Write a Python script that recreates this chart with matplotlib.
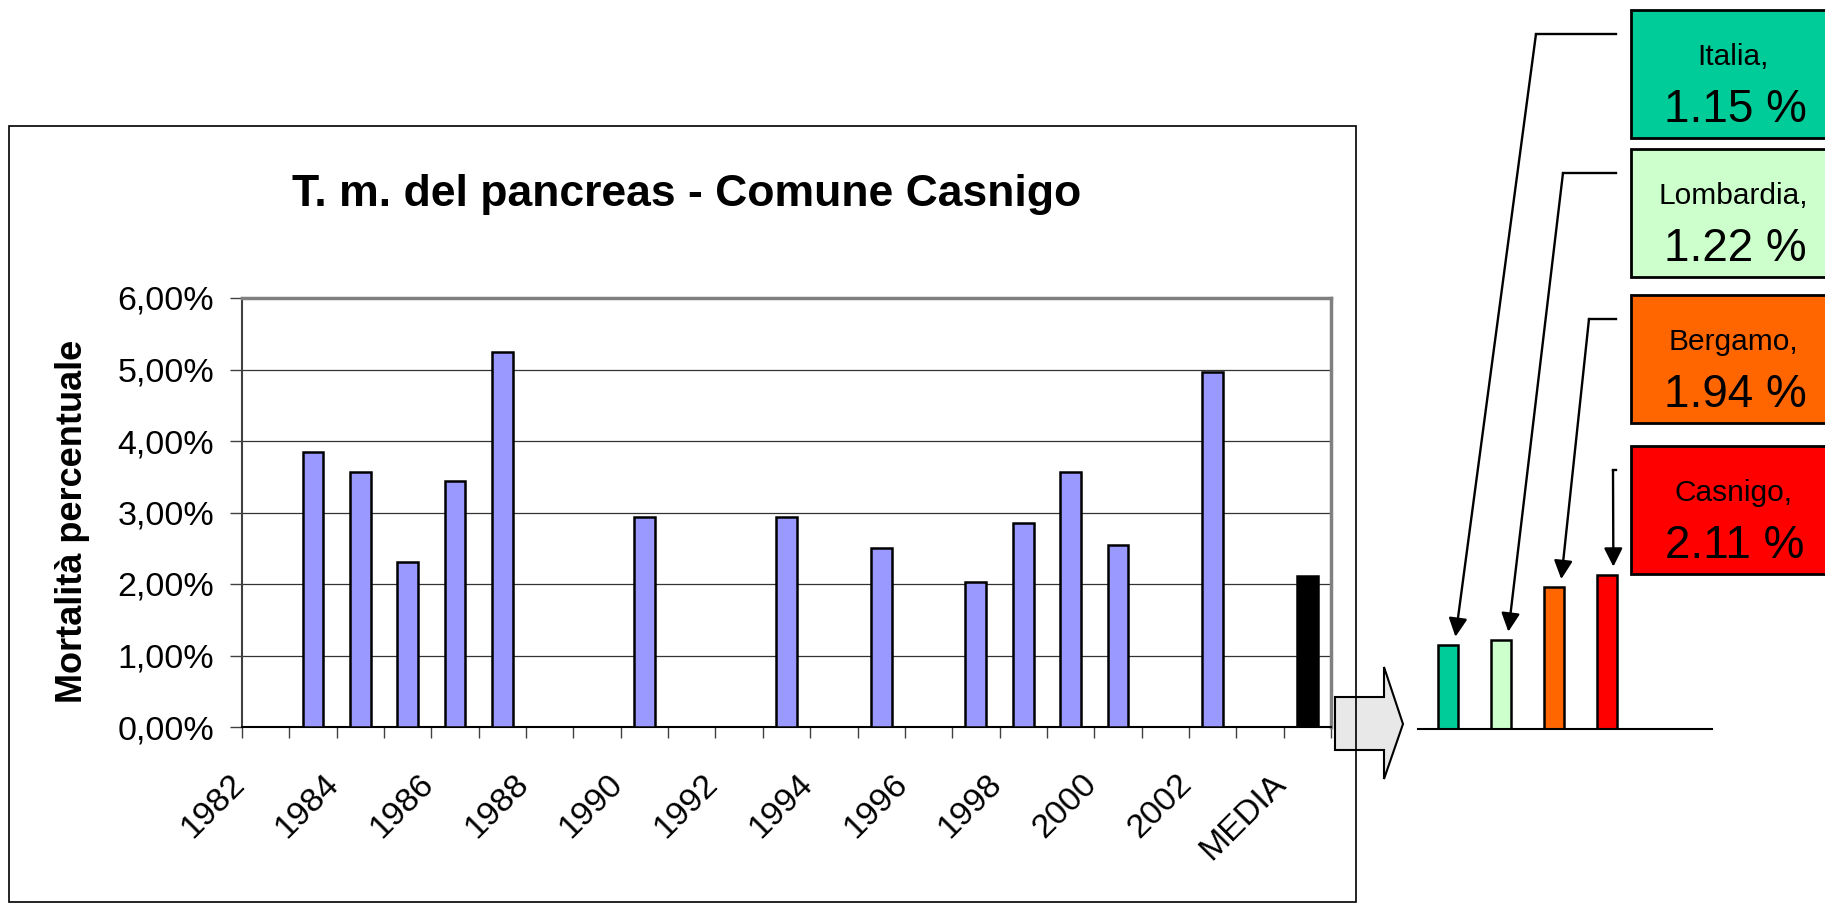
import numpy as np
import matplotlib
matplotlib.use('Agg')
from matplotlib import pyplot as plt
from matplotlib.patches import Rectangle, Polygon
from matplotlib.lines import Line2D
import matplotlib.transforms as mtransforms

plt.rcParams['font.family'] = ['Liberation Sans', 'DejaVu Sans']

# data (percent)
categories = [str(y) for y in range(1982, 2004)] + ['MEDIA']
mortality = [np.nan, 3.84, 3.56, 2.31, 3.44, 5.24, np.nan, np.nan, 2.94,
             np.nan, np.nan, 2.94, np.nan, 2.50, np.nan, 2.03, 2.86, 3.56,
             2.54, np.nan, 4.97, np.nan, 2.11]
ytick_labels = ['0,00%', '1,00%', '2,00%', '3,00%', '4,00%', '5,00%', '6,00%']

areas = ['Italia', 'Lombardia', 'Bergamo', 'Casnigo']
area_values = [1.15, 1.22, 1.94, 2.11]
area_colors = ['#00CC99', '#CCFFCC', '#FF6600', '#FF0000']

# figure, sizes in pixels
W, H = 1825, 907
fig = plt.figure(figsize=(W / 100.0, H / 100.0), dpi=100)


def fx(x):
    return x / float(W)


def fy(y):
    return 1 - y / float(H)


# main chart
ax = fig.add_axes([fx(242), fy(727), (1331 - 242) / float(W), (727 - 298) / float(H)])
x = np.arange(len(categories))
colors = ['black' if c == 'MEDIA' else '#9999FF' for c in categories]
ax.bar(x, mortality, width=0.44, color=colors, edgecolor='black',
       linewidth=1.8, zorder=3)
ax.set_xlim(-0.5, len(categories) - 0.5)
ax.set_ylim(0, 6)
ax.yaxis.grid(True, color='#333333', linewidth=0.9)
ax.set_axisbelow(True)

ax.set_xticks(np.arange(-0.5, len(categories), 1.0))
ax.set_xticklabels([])
ax.tick_params(axis='x', length=8, width=1, color='#404040', direction='out')
ax.set_yticks(range(len(ytick_labels)))
ax.set_yticklabels(ytick_labels, fontsize=24.5)
ax.tick_params(axis='y', length=9, width=1, color='#404040', pad=11)

offset = mtransforms.ScaledTranslation(-26 / 100.0, -52 / 100.0, fig.dpi_scale_trans)
for i in range(0, len(categories), 2):
    ax.text(i, 0, categories[i], transform=ax.get_xaxis_transform() + offset,
            rotation=45, ha='right', va='center', rotation_mode='anchor',
            fontsize=24.5)

for side in ['top', 'right']:
    ax.spines[side].set_color('#808080')
    ax.spines[side].set_linewidth(2.5)
ax.spines['left'].set_color('#404040')
ax.spines['left'].set_linewidth(1.5)
ax.spines['bottom'].set_color('black')
ax.spines['bottom'].set_linewidth(1.5)

ax.set_ylabel('Mortalità percentuale', fontsize=26, fontweight='bold')
ax.yaxis.set_label_coords((90 - 242) / float(1331 - 242), 0.48)

fig.text(fx(687), fy(194), 'T. m. del pancreas - Comune Casnigo',
         fontsize=32, fontweight='bold', ha='center', va='center')

# chart frame
fig.add_artist(Rectangle((fx(9), fy(902)), fx(1356) - fx(9), fy(126) - fy(902),
                         transform=fig.transFigure, fill=False,
                         edgecolor='black', linewidth=1.2, zorder=5))

# block arrow
pts = [(1335, 697), (1384, 697), (1384, 667), (1403, 724), (1384, 779),
       (1384, 750), (1335, 750)]
fig.add_artist(Polygon([(fx(a), fy(b)) for a, b in pts], closed=True,
                       transform=fig.transFigure, facecolor='#E8E8E8',
                       edgecolor='black', linewidth=1.5, zorder=4))

# comparison chart
ax2 = fig.add_axes([fx(1418), fy(729), (1712 - 1418) / float(W), (729 - 510) / float(H)])
ax2.bar(range(len(areas)), area_values, width=0.375, color=area_colors,
        edgecolor='black', linewidth=1.8)
ax2.set_xlim(-0.566, 4.98)
ax2.set_ylim(0, 3)
for side in ['top', 'right', 'left']:
    ax2.spines[side].set_visible(False)
ax2.spines['bottom'].set_linewidth(1.5)
ax2.set_xticks([])
ax2.set_yticks([])
ax2.patch.set_alpha(0)

# labels with leader arrows
box_tops = [10, 149, 295, 446]
box_h = 128
bend_x = [1536, 1563, 1589, 1613]
for i, (name, val, col) in enumerate(zip(areas, area_values, area_colors)):
    top = box_tops[i]
    fig.add_artist(Rectangle((fx(1631), fy(top + box_h)), fx(1836) - fx(1631),
                             fy(top) - fy(top + box_h), transform=fig.transFigure,
                             facecolor=col, edgecolor='black', linewidth=2))
    fig.text(fx(1733), fy(top + 0.37 * box_h), name + ',', fontsize=21.5,
             ha='center', va='center')
    fig.text(fx(1735), fy(top + 0.78 * box_h), '%.2f %%' % val, fontsize=33,
             ha='center', va='center')
    ly = top + 24
    fig.add_artist(Line2D([fx(1616), fx(bend_x[i])], [fy(ly), fy(ly)],
                          transform=fig.transFigure, color='black', linewidth=1.7))
    ax2.annotate('', xy=(i + 0.12, val), xycoords='data',
                 xytext=(fx(bend_x[i]), fy(ly)), textcoords='figure fraction',
                 annotation_clip=False,
                 arrowprops=dict(arrowstyle='-|>', color='black', lw=1.7,
                                 mutation_scale=28, shrinkA=0, shrinkB=6,
                                 clip_on=False))

fig.savefig('out.png', dpi=100)
